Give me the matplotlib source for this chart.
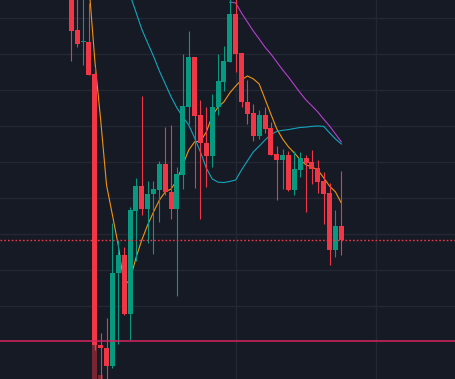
import matplotlib
matplotlib.use("Agg")
import matplotlib.pyplot as plt
import numpy as np

# OHLC (no price scale visible, so prices are relative)
opens = [197.8, 186.7, 183.2, 183.3, 174.4, 99.2, 98.3, 93.4, 119.1, 124.2,
         107.8, 136.5, 143.3, 136.9, 141.0, 142.2, 149.4, 141.75, 136.9, 146.5,
         165.4, 179.1, 163.1, 155.2, 151.75, 165.2, 172.3, 177.9, 191.1, 180.3,
         166.75, 163.5, 157.2, 163.1, 159.5, 152.2, 150.6, 151.9, 142.2, 147.8,
         151.1, 150.0, 148.3, 144.7, 141.4, 125.6, 132.2]
highs = [200.6, 196.4, 196.4, 194.1, 176.5, 102.6, 106.7, 133.1, 128.3, 126.4,
         137.5, 145.6, 168.3, 144.7, 144.7, 150.4, 159.8, 160.3, 148.7, 180.0,
         186.4, 179.1, 167.2, 165.4, 168.9, 180.0, 182.2, 196.4, 196.4, 180.3,
         172.8, 166.0, 164.4, 165.4, 161.0, 154.4, 153.6, 153.1, 153.1, 152.8,
         151.9, 153.3, 150.6, 147.2, 144.2, 136.7, 147.5]
lows = [178.1, 182.0, 176.9, 174.2, 97.8, 88.1, 86.7, 92.9, 99.4, 107.5,
        100.6, 122.5, 135.3, 127.5, 124.4, 133.4, 140.8, 134.2, 112.9, 142.5,
        160.6, 142.7, 134.2, 143.1, 148.7, 163.1, 169.8, 177.9, 175.1, 165.4,
        160.6, 155.9, 156.3, 158.0, 151.9, 139.4, 142.5, 141.9, 140.8, 145.8,
        136.1, 143.9, 141.4, 132.8, 121.4, 123.6, 124.2]
closes = [186.5, 182.9, 183.4, 174.3, 99.2, 98.25, 93.4, 119.1, 124.2, 107.8,
          136.7, 143.3, 136.9, 141.1, 142.5, 149.4, 141.75, 136.9, 146.7, 165.6,
          179.1, 162.9, 155.2, 151.75, 165.2, 172.5, 178.1, 191.1, 180.0, 166.75,
          163.3, 157.2, 163.1, 159.2, 151.9, 150.6, 151.9, 142.2, 148.1, 151.1,
          149.6, 148.1, 144.4, 141.1, 125.6, 132.2, 128.3]
# volume bars peeking in at the bottom (only two are visible)
volume = [0, 0, 0, 0, 9.5, 1.1, 0, 0, 0, 0, 0, 0, 0, 0, 0, 0, 0, 0, 0, 0,
          0, 0, 0, 0, 0, 0, 0, 0, 0, 0, 0, 0, 0, 0, 0, 0, 0, 0, 0, 0,
          0, 0, 0, 0, 0, 0, 0]

# moving average lines, values read per candle
ma_fast_start = 3
ma_fast = [199.2, 178.3, 161.7, 143.6, 135.3, 126.9, 115.8, 117.2, 123.3, 128.3,
           132.5, 136.1, 139.4, 141.7, 142.5, 145.0, 149.2, 153.3, 155.6, 155.8,
           158.3, 162.8, 165.3, 166.7, 169.2, 171.1, 172.8, 173.9, 173.1, 171.7,
           167.5, 163.3, 159.2, 156.4, 154.2, 152.5, 150.6, 149.2, 148.6, 147.8,
           145.6, 143.3, 141.7, 138.6]
ma_mid_start = 10
ma_mid = [196.4, 191.7, 186.9, 183.1, 179.4, 175.3, 171.7, 168.1, 165.0, 162.5,
          160.3, 156.7, 152.8, 148.3, 145.3, 144.4, 144.3, 144.6, 145.0, 147.8,
          150.3, 152.8, 154.4, 156.1, 157.6, 158.5, 158.8, 159.0, 159.3, 159.6,
          159.7, 159.9, 160.0, 159.9, 158.1, 156.4, 155.0]
ma_slow_start = 27
ma_slow = [194.4, 194.2, 191.4, 188.9, 186.4, 184.2, 181.9, 180.0, 177.8, 175.6,
           173.6, 171.4, 169.2, 167.2, 165.6, 163.9, 161.9, 160.0, 157.8, 155.6]

h_line = 100.3  # solid horizontal line near the bottom

bg = "#161a25"
up_col = "#089981"
down_col = "#f23645"

fig = plt.figure(figsize=(4.55, 3.79), dpi=100)
fig.patch.set_facecolor(bg)
ax = fig.add_axes([0, 0, 1, 1])
ax.set_facecolor(bg)

ax.set_xlim(-12.15, 65.37)
ax.set_ylim(89.72, 195.0)

# grid
for gy in range(110, 191, 10):
    ax.axhline(gy, color="#242834", lw=1, zorder=0)
for gx in [28.06, 51.91]:
    ax.axvline(gx, color="#242834", lw=1, zorder=0)

x = np.arange(len(opens))
o = np.array(opens)
c = np.array(closes)
colors = [up_col if cc >= oo else down_col for oo, cc in zip(o, c)]

# volume
ymin = ax.get_ylim()[0]
ax.bar(x, volume, bottom=ymin, width=0.8, color=down_col, alpha=0.45,
       zorder=1, linewidth=0)

# moving averages
ax.plot(np.arange(ma_fast_start, ma_fast_start + len(ma_fast)), ma_fast,
        color="#f09410", lw=0.8, zorder=2)
ax.plot(np.arange(ma_mid_start, ma_mid_start + len(ma_mid)), ma_mid,
        color="#12a5bd", lw=0.8, zorder=2)
ax.plot(np.arange(ma_slow_start, ma_slow_start + len(ma_slow)), ma_slow,
        color="#b63fd0", lw=0.8, zorder=2)

# candles
ax.vlines(x, lows, highs, colors=colors, lw=0.8, zorder=3)
body_h = np.abs(c - o)
body_h = np.where(body_h < 0.3, 0.3, body_h)
ax.bar(x, body_h, bottom=np.minimum(o, c), width=0.85, color=colors,
       linewidth=0, zorder=4)

# last price line and horizontal line
ax.axhline(closes[-1], color=down_col, lw=1, ls=(0, (1.2, 1.5)), zorder=5)
ax.axhline(h_line, color="#d6245f", lw=1.1, zorder=5)

ax.axis("off")
fig.savefig("out.png", dpi=100, facecolor=bg)
